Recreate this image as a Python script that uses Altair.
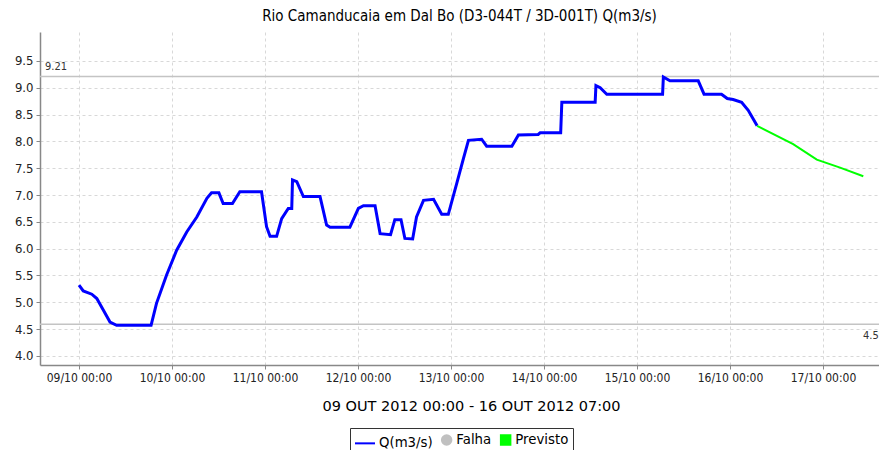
import altair as alt
import pandas as pd

# hours since 09/10/2012 00:00 and discharge values (m3/s)
q_hours = [0, 1.1, 3.3, 4.6, 6.3, 8.0, 9.7, 18.6, 20.0, 22.6, 25.2, 27.8, 30.4, 33.0, 34.2,
           36.1, 37.2, 39.6, 41.5, 47.1, 48.4, 49.3, 51.0, 52.3, 54.0, 54.9, 55.1, 56.2,
           57.9, 62.2, 63.9, 64.8, 69.9, 72.1, 73.4, 76.4, 77.7, 80.4, 81.5, 83.1, 84.1,
           86.1, 87.1, 88.9, 91.5, 93.6, 95.3, 97.5, 99.2, 100.5, 103.9, 105.2, 111.7,
           113.4, 118.5, 119.0, 124.3, 124.6, 133.2, 133.4, 134.5, 136.2, 150.6, 150.8,
           152.5, 159.8, 161.3, 165.8, 167.3, 168.8, 171.0, 172.7, 175.0]
q_vals = [5.32, 5.21, 5.15, 5.07, 4.85, 4.63, 4.57, 4.57, 4.98, 5.51, 5.97, 6.31, 6.59, 6.94,
          7.04, 7.04, 6.84, 6.84, 7.06, 7.06, 6.41, 6.23, 6.23, 6.56, 6.75, 6.75, 7.28, 7.25,
          6.97, 6.97, 6.44, 6.40, 6.40, 6.75, 6.80, 6.80, 6.28, 6.26, 6.54, 6.54, 6.19,
          6.18, 6.59, 6.90, 6.92, 6.64, 6.64, 7.22, 7.68, 8.02, 8.04, 7.91, 7.91, 8.12,
          8.13, 8.16, 8.16, 8.73, 8.73, 9.04, 9.00, 8.88, 8.88, 9.20, 9.13, 9.13, 8.88,
          8.88, 8.80, 8.78, 8.73, 8.58, 8.29]
prev_hours = [175.0, 184.3, 190.4, 196.4, 202.4]
prev_vals = [8.29, 7.95, 7.66, 7.51, 7.35]

ref_vals = [9.21, 4.59]
ref_labels = ["9.21", "4.59"]

y_ticks = [4.0, 4.5, 5.0, 5.5, 6.0, 6.5, 7.0, 7.5, 8.0, 8.5, 9.0, 9.5]

series_names = ["Q(m3/s)", "Falha", "Previsto"]
series_colors = ["#0000ff", "#c0c0c0", "#00ff00"]
series_shapes = ["stroke", "circle", "square"]
series_sizes = [400, 90, 90]

tick_days = list(range(9, 18))

base = pd.Timestamp("2012-10-09T00:00:00")


def iso(h):
    return (base + pd.Timedelta(hours=h)).strftime("%Y-%m-%dT%H:%M:%SZ")


q_df = pd.DataFrame({"t": [iso(h) for h in q_hours], "v": q_vals, "s": "Q(m3/s)"})
p_df = pd.DataFrame({"t": [iso(h) for h in prev_hours], "v": prev_vals, "s": "Previsto"})
ref_df = pd.DataFrame({"v": ref_vals, "label": ref_labels})
leg_df = pd.DataFrame({"s": series_names, "t": [iso(0)] * 3, "v": [5.0] * 3})

FONT = "DejaVu Sans Condensed, DejaVu Sans"
x_start = alt.DateTime(year=2012, month=10, date=8, hours=13, minutes=56, utc=True)
x_end = alt.DateTime(year=2012, month=10, date=17, hours=14, minutes=27, utc=True)

x_enc = alt.X(
    "t:T",
    scale=alt.Scale(type="utc", domain=[x_start, x_end]),
    axis=alt.Axis(
        values=[alt.DateTime(year=2012, month=10, date=d, utc=True) for d in tick_days],
        format="%d/%m %H:%M",
        labelFontSize=12,
        title="09 OUT 2012 00:00 - 16 OUT 2012 07:00",
        titleX=431,
    ),
)
y_scale = alt.Scale(domain=[3.83, 10.04], nice=False, zero=False)
y_enc = alt.Y(
    "v:Q",
    scale=y_scale,
    axis=alt.Axis(values=y_ticks, format=".1f", title=None, labelFontSize=13,
                  labelOverlap=False),
)

q_line = alt.Chart(q_df).mark_line(strokeWidth=3, color="#0000ff").encode(x=x_enc, y=y_enc)
p_line = alt.Chart(p_df).mark_line(strokeWidth=2, color="#00ff00").encode(x=x_enc, y=y_enc)

rules = alt.Chart(ref_df).mark_rule(color="#c4c4c4", strokeWidth=1.5).encode(y=y_enc)

lbl_top = alt.Chart(ref_df).transform_filter(alt.datum.label == "9.21").mark_text(
    align="left", baseline="bottom", dx=5, dy=-5, font=FONT, fontSize=11, color="#333333"
).encode(x=alt.datum(x_start, type="temporal"), y=y_enc, text="label:N")

lbl_bot = alt.Chart(ref_df).transform_filter(alt.datum.label == "4.59").mark_text(
    align="left", baseline="top", dx=-16, dy=6, font=FONT, fontSize=11, color="#333333"
).encode(x=alt.datum(x_end, type="temporal"), y=y_enc, text="label:N")

legend_layer = alt.Chart(leg_df).transform_filter(alt.datum.s == "none").mark_point(
    filled=True, strokeWidth=2, opacity=1
).encode(
    x=x_enc,
    y=y_enc,
    fill=alt.Fill("s:N", scale=alt.Scale(domain=series_names, range=series_colors),
                  legend=alt.Legend(title=None)),
    stroke=alt.Stroke("s:N", scale=alt.Scale(domain=series_names, range=series_colors),
                      legend=alt.Legend(title=None)),
    shape=alt.Shape("s:N", scale=alt.Scale(domain=series_names, range=series_shapes),
                    legend=alt.Legend(title=None)),
    size=alt.Size("s:N", scale=alt.Scale(type="ordinal", domain=series_names,
                                          range=series_sizes),
                  legend=alt.Legend(title=None)),
)

chart = alt.layer(rules, q_line, p_line, lbl_top, lbl_bot, legend_layer).properties(
    width=839,
    height=333,
    autosize=alt.AutoSizeParams(type="none"),
    padding={"left": 32, "top": 24, "right": 0, "bottom": 85},
    title=alt.TitleParams(
        "Rio Camanducaia em Dal Bo (D3-044T / 3D-001T) Q(m3/s)",
        font=FONT, fontSize=15, fontWeight="normal", color="#000000", offset=8,
    ),
).configure_view(stroke=None).configure_axis(
    labelFont=FONT,
    labelColor="#222222",
    domainColor="#888888",
    domainWidth=1.5,
    tickColor="#888888",
    tickSize=4,
    labelPadding=3,
    grid=True,
    gridColor="#d8d8d8",
    gridDash=[3, 3],
    gridWidth=1,
    titleFont="DejaVu Sans",
    titleFontSize=14.5,
    titleFontWeight="normal",
    titleColor="#000000",
    titlePadding=16,
).configure_legend(
    orient="none",
    legendX=310,
    legendY=396,
    direction="horizontal",
    strokeColor="#333333",
    fillColor="#ffffff",
    padding=4,
    labelFont="DejaVu Sans",
    labelFontSize=13.3,
    labelColor="#000000",
    labelOffset=3,
    columnPadding=4,
    symbolStrokeWidth=2,
)

chart.save("out.html", embed_options={"renderer": "svg", "actions": False})
